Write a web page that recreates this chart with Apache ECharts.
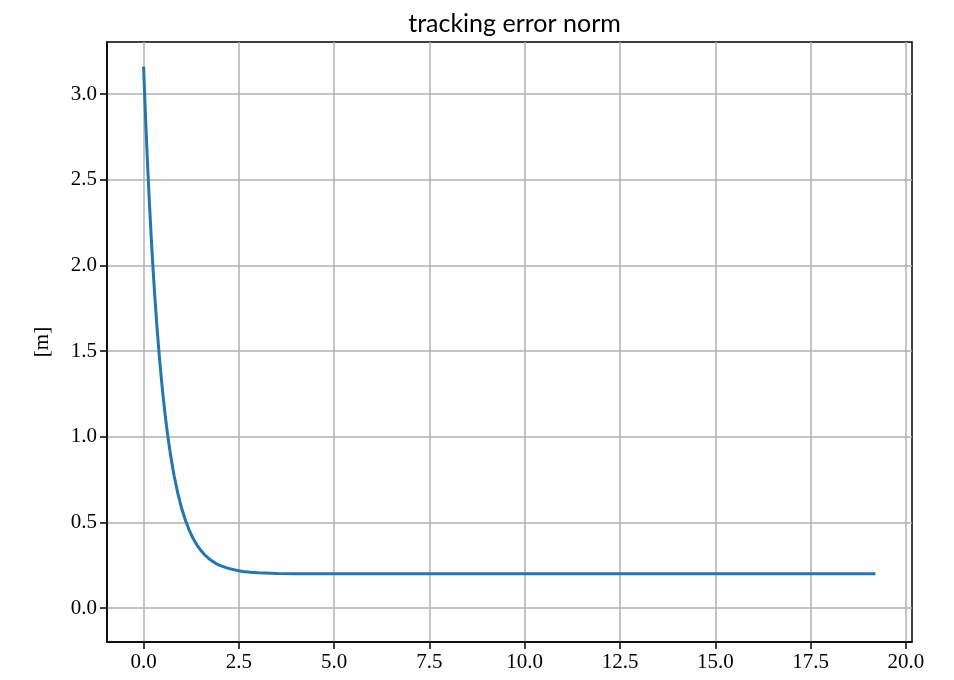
<!DOCTYPE html>
<html>
<head>
<meta charset="utf-8">
<script src="https://cdn.jsdelivr.net/npm/echarts@6/dist/echarts.min.js"></script>
<style>
  html, body { margin: 0; padding: 0; background: #fff; }
  #chart { width: 954px; height: 680px; }
</style>
</head>
<body>
<div id="chart"></div>
<script>
// time [s]
const timeS = [0, 0.05, 0.1, 0.15, 0.2, 0.25, 0.3, 0.35, 0.4, 0.45, 0.5, 0.55, 0.6, 0.65,
  0.7, 0.75, 0.8, 0.9, 1.0, 1.1, 1.2, 1.3, 1.4, 1.5, 1.6, 1.7, 1.8, 1.9, 2.0, 2.2, 2.4,
  2.6, 2.8, 3.0, 3.5, 4.0, 5.0, 7.5, 10.0, 12.5, 15.0, 17.5, 19.2];
// tracking error norm [m]
const errorNorm = [3.160, 2.872, 2.611, 2.377, 2.165, 1.973, 1.800, 1.644, 1.504, 1.377,
  1.262, 1.159, 1.065, 0.981, 0.905, 0.836, 0.774, 0.668, 0.581, 0.511, 0.453, 0.406,
  0.368, 0.337, 0.311, 0.291, 0.274, 0.260, 0.249, 0.233, 0.222, 0.214, 0.2095, 0.206,
  0.202, 0.201, 0.200, 0.200, 0.200, 0.200, 0.200, 0.200, 0.200];
const xTicks = [0, 2.5, 5, 7.5, 10, 12.5, 15, 17.5, 20];
const yTicks = [0, 0.5, 1.0, 1.5, 2.0, 2.5, 3.0];

const points = timeS.map((t, i) => [t, errorNorm[i]]);
const serif = '"Liberation Serif", "DejaVu Serif", serif';

const chart = echarts.init(document.getElementById('chart'), null, { renderer: 'canvas' });
chart.setOption({
  animation: false,
  backgroundColor: '#ffffff',
  title: {
    text: 'tracking error norm',
    left: 509.5,
    textAlign: 'center',
    top: 6,
    textStyle: { fontFamily: 'Lato, "Noto Sans", sans-serif', fontSize: 25, fontWeight: 'normal', color: '#000' }
  },
  grid: {
    left: 107, right: 42, top: 42, bottom: 38,
    show: true, borderColor: '#000', borderWidth: 1.5, backgroundColor: 'transparent'
  },
  xAxis: {
    type: 'value',
    min: -0.96, max: 20.16,
    axisLine: { show: true, onZero: false, lineStyle: { color: '#000', width: 1.5 } },
    axisTick: { show: true, length: 7, customValues: xTicks, lineStyle: { color: '#000', width: 1.5 } },
    axisLabel: {
      customValues: xTicks, margin: 10, color: '#000',
      fontFamily: serif, fontSize: 21,
      formatter: v => v.toFixed(1)
    },
    splitLine: { show: true, lineStyle: { color: '#b0b0b0', width: 1.5 } }
  },
  yAxis: {
    type: 'value',
    min: -0.198, max: 3.304,
    name: '[m]',
    nameLocation: 'middle',
    nameGap: 54,
    nameRotate: 90,
    nameTextStyle: { fontFamily: serif, fontSize: 21, color: '#000' },
    axisLine: { show: true, onZero: false, lineStyle: { color: '#000', width: 1.5 } },
    axisTick: { show: true, length: 7, customValues: yTicks, lineStyle: { color: '#000', width: 1.5 } },
    axisLabel: {
      customValues: yTicks, margin: 10, color: '#000',
      fontFamily: serif, fontSize: 21,
      formatter: v => v.toFixed(1)
    },
    splitLine: { show: true, lineStyle: { color: '#b0b0b0', width: 1.5 } }
  },
  series: [{
    type: 'line',
    data: points,
    showSymbol: false,
    smooth: false,
    lineStyle: { color: '#1f77b4', width: 3, join: 'round' },
    clip: true
  }]
});
</script>
</body>
</html>
